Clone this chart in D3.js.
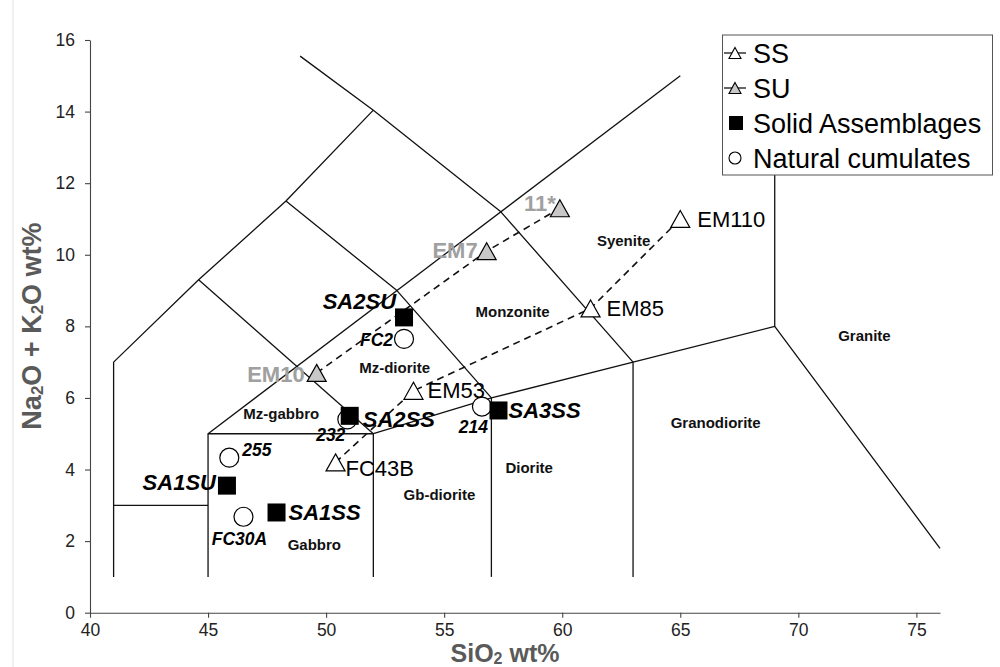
<!DOCTYPE html>
<html><head><meta charset="utf-8">
<script src="https://cdn.jsdelivr.net/npm/d3@7"></script>
<style>
html,body{margin:0;padding:0;background:#fff;}
svg{display:block;font-family:"Liberation Sans",Arial,Helvetica,sans-serif;}
</style></head>
<body>
<svg id="chart" width="1000" height="667"></svg>
<script>
// ---- data ----
const xTicks = [40,45,50,55,60,65,70,75];
const yTicks = [0,2,4,6,8,10,12,14,16];

const ssNames = ["FC43B","EM53","EM85","EM110"];
const ssSiO2  = [50.4, 53.7, 61.2, 65.0];
const ssAlk   = [4.2, 6.2, 8.5, 11.0];

const suNames = ["EM10","EM7","11*"];
const suSiO2  = [49.6, 56.8, 59.9];
const suAlk   = [6.7, 10.1, 11.3];

const saNames = ["SA1SU","SA1SS","SA2SU","SA2SS","SA3SS"];
const saSiO2  = [45.8, 47.9, 53.3, 51.0, 57.3];
const saAlk   = [3.55, 2.8, 8.25, 5.5, 5.65];

const ncNames = ["255","FC30A","FC2","232","214"];
const ncSiO2  = [45.9, 46.5, 53.3, 50.9, 56.6];
const ncAlk   = [4.33, 2.68, 7.65, 5.4, 5.76];

// TAS (plutonic) field boundaries, [SiO2, Na2O+K2O]
const boundaries = [
  [[41,1],[41,7],[44.6,9.3],[48.3,11.5],[52,14.04]],
  [[48.9,15.55],[52,14.04],[57.4,11.2],[63,7]],
  [[45,5],[65,15]],
  [[44.6,9.3],[52,5]],
  [[48.3,11.5],[53,9],[57,6]],
  [[41,3],[45,3]],
  [[45,1],[45,5],[52,5],[57,6],[63,7],[69,8],[76,1.8]],
  [[52,5],[52,1]],
  [[57,6],[57,1]],
  [[63,7],[63,1]],
  [[69,8],[69,16]]
];
const fieldNames = ["Syenite","Monzonite","Mz-diorite","Mz-gabbro","Gabbro","Gb-diorite","Diorite","Granodiorite","Granite"];
const fieldSiO2  = [62.6, 57.9, 52.9, 48.1, 49.5, 54.8, 58.6, 66.5, 72.8];
const fieldAlk   = [10.4, 8.4, 6.85, 5.55, 1.9, 3.3, 4.05, 5.3, 7.75];

const legendLabels = ["SS","SU","Solid Assemblages","Natural cumulates"];

// ---- drawing ----
const svg = d3.select("#chart");
const FONT = '"Liberation Sans",Arial,Helvetica,sans-serif';
const x = d3.scaleLinear().domain([40,76]).range([90,940]);
const y = d3.scaleLinear().domain([0,16]).range([612.7,40]);

// faint frame line at left
svg.append("line").attr("x1",13).attr("x2",13).attr("y1",0).attr("y2",667)
  .attr("stroke","#e2e2e2").attr("stroke-width",1);

const line = d3.line().x(d=>x(d[0])).y(d=>y(d[1]));

// boundaries
svg.append("g").selectAll("path").data(boundaries).join("path")
  .attr("d", line).attr("fill","none").attr("stroke","#111").attr("stroke-width",1.3)
  .attr("stroke-linejoin","round");

// axes
const gx = svg.append("g").attr("transform",`translate(0,${y(0)})`)
  .call(d3.axisBottom(x).tickValues(xTicks).tickSize(5).tickPadding(6).tickSizeOuter(0));
const gy = svg.append("g").attr("transform",`translate(${x(40)},0)`)
  .call(d3.axisLeft(y).tickValues(yTicks).tickSize(5).tickPadding(10).tickSizeOuter(0));
[gx,gy].forEach(g=>{
  g.selectAll("path,line").attr("stroke","#444").attr("stroke-width",1.1);
  g.selectAll("text").attr("font-size",17.5).attr("font-family",FONT).attr("fill","#222");
});

// axis titles
const xt = svg.append("text").attr("x",505).attr("y",662).attr("text-anchor","middle")
  .attr("font-size",25).attr("font-weight","bold").attr("fill","#5a5a5a");
xt.append("tspan").text("SiO");
xt.append("tspan").text("2").attr("font-size",16).attr("dy",1.5);
xt.append("tspan").text(" wt%").attr("dy",-1.5);

const yt = svg.append("text").attr("transform","translate(41,326) rotate(-90)")
  .attr("text-anchor","middle").attr("font-size",27).attr("font-weight","bold").attr("fill","#5a5a5a");
yt.append("tspan").text("Na");
yt.append("tspan").text("2").attr("font-size",17).attr("dy",2);
yt.append("tspan").text("O + K").attr("dy",-2);
yt.append("tspan").text("2").attr("font-size",17).attr("dy",2);
yt.append("tspan").text("O wt%").attr("dy",-2);

// field labels
svg.append("g").selectAll("text").data(fieldNames).join("text")
  .attr("x",(d,i)=>x(fieldSiO2[i])).attr("y",(d,i)=>y(fieldAlk[i]))
  .attr("dy","0.35em").attr("text-anchor","middle")
  .attr("font-size",15).attr("font-weight","bold").attr("fill","#111").text(d=>d);

// dashed trend lines
const ssPts = ssNames.map((n,i)=>[ssSiO2[i],ssAlk[i]]);
const suPts = suNames.map((n,i)=>[suSiO2[i],suAlk[i]]);
[ssPts,suPts].forEach(p=>{
  svg.append("path").attr("d",line(p)).attr("fill","none").attr("stroke","#111")
    .attr("stroke-width",1.6).attr("stroke-dasharray","7,5");
});

// marker helpers
function tri(cx,cy,w,h){ return `M${cx},${cy-h/2}L${cx+w/2},${cy+h/2}L${cx-w/2},${cy+h/2}Z`; }

// natural cumulates (circles)
svg.append("g").selectAll("circle").data(ncNames).join("circle")
  .attr("cx",(d,i)=>x(ncSiO2[i])).attr("cy",(d,i)=>y(ncAlk[i])).attr("r",9.5)
  .attr("fill","#fff").attr("stroke","#000").attr("stroke-width",1.2);
// solid assemblages (squares)
svg.append("g").selectAll("rect").data(saNames).join("rect")
  .attr("x",(d,i)=>x(saSiO2[i])-9).attr("y",(d,i)=>y(saAlk[i])-9)
  .attr("width",18).attr("height",18).attr("fill","#000");
// SS triangles
svg.append("g").selectAll("path").data(ssNames).join("path")
  .attr("d",(d,i)=>tri(x(ssSiO2[i]),y(ssAlk[i]),19,17))
  .attr("fill","#fff").attr("stroke","#000").attr("stroke-width",1.2);
// SU triangles
svg.append("g").selectAll("path").data(suNames).join("path")
  .attr("d",(d,i)=>tri(x(suSiO2[i]),y(suAlk[i]),19,17))
  .attr("fill","#c8c8c8").attr("stroke","#000").attr("stroke-width",1.2);

// point labels: offset from marker centre [dx, dy, anchor]
const labelPlace = {
  "FC43B":[10,6,"start"], "EM53":[14,-1,"start"], "EM85":[16,0,"start"], "EM110":[17,0,"start"],
  "EM10":[-12,1,"end"], "EM7":[-9,-1,"end"], "11*":[-4,-5,"end"],
  "SA2SU":[-8,-16,"end"], "SA2SS":[13,3,"start"], "SA3SS":[10,0,"start"],
  "SA1SU":[-11,-4,"end"], "SA1SS":[12,0,"start"],
  "255":[13,-8,"start"], "FC30A":[-4,22,"middle"], "FC2":[-11,1,"end"],
  "232":[-2,15,"end"], "214":[6,20,"end"]
};
function addLabels(names, xs, ys, opts){
  svg.append("g").selectAll("text").data(names).join("text")
    .attr("x",(d,i)=>x(xs[i])+labelPlace[d][0])
    .attr("y",(d,i)=>y(ys[i])+labelPlace[d][1])
    .attr("dy","0.36em").attr("text-anchor",d=>labelPlace[d][2])
    .attr("font-size",opts.size).attr("font-weight",opts.weight)
    .attr("font-style",opts.style).attr("fill",opts.fill).text(d=>d);
}
addLabels(ssNames, ssSiO2, ssAlk, {size:22, weight:"normal", style:"normal", fill:"#000"});
addLabels(suNames, suSiO2, suAlk, {size:22, weight:"bold", style:"normal", fill:"#a0a0a0"});
addLabels(saNames, saSiO2, saAlk, {size:22, weight:"bold", style:"italic", fill:"#000"});
addLabels(ncNames, ncSiO2, ncAlk, {size:17.5, weight:"bold", style:"italic", fill:"#000"});

// legend
const lg = svg.append("g");
lg.append("rect").attr("x",722.5).attr("y",35).attr("width",270).attr("height",140)
  .attr("fill","#fff").attr("stroke","#555").attr("stroke-width",1);
const rowY = legendLabels.map((d,i)=>53 + i*35);
const mx = 735;
// SS
lg.append("line").attr("x1",724).attr("x2",746).attr("y1",rowY[0]).attr("y2",rowY[0]).attr("stroke","#000").attr("stroke-width",1.2);
lg.append("path").attr("d",tri(mx,rowY[0],12,11)).attr("fill","#fff").attr("stroke","#000").attr("stroke-width",1.1);
// SU
lg.append("line").attr("x1",724).attr("x2",746).attr("y1",rowY[1]).attr("y2",rowY[1]).attr("stroke","#000").attr("stroke-width",1.2);
lg.append("path").attr("d",tri(mx,rowY[1],12,11)).attr("fill","#c8c8c8").attr("stroke","#000").attr("stroke-width",1.1);
// square
lg.append("rect").attr("x",mx-6).attr("y",rowY[2]-7).attr("width",14).attr("height",14).attr("fill","#000");
// circle
lg.append("circle").attr("cx",mx).attr("cy",rowY[3]).attr("r",6).attr("fill","#fff").attr("stroke","#000").attr("stroke-width",1.1);
lg.selectAll("text.lt").data(legendLabels).join("text").attr("class","lt")
  .attr("x",753).attr("y",(d,i)=>rowY[i]).attr("dy","0.36em")
  .attr("font-size",27).attr("fill","#000").text(d=>d);
</script>
</body></html>
